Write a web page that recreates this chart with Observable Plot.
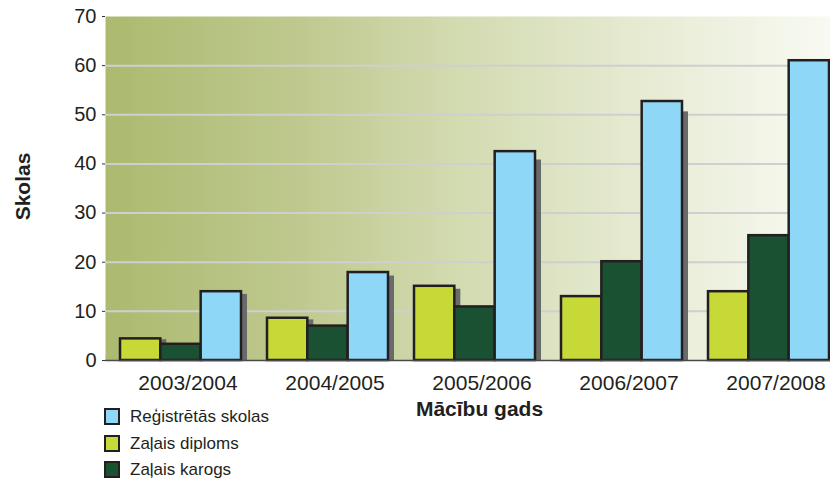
<!DOCTYPE html>
<html>
<head>
<meta charset="utf-8">
<script src="https://cdn.jsdelivr.net/npm/d3@7"></script>
<script src="https://cdn.jsdelivr.net/npm/@observablehq/plot@0.6"></script>
<style>
  body { margin: 0; background: #fff; }
  #wrap { position: relative; width: 830px; height: 479px; font-family: "Liberation Sans", Arial, sans-serif; color: #231f20; }
  #legend { position: absolute; left: 104px; top: 408px; }
  .row { display: flex; align-items: center; height: 17px; margin-bottom: 9.5px; }
  .sw { width: 16px; height: 17px; box-sizing: border-box; border: 2px solid #231f20; margin-right: 10px; }
  .lab { font-size: 17px; line-height: 17px; }
</style>
</head>
<body>
<div id="wrap"><div id="chart"></div><div id="legend"></div></div>
<script>
const years = ["2003/2004", "2004/2005", "2005/2006", "2006/2007", "2007/2008"];
const diploms = [4.4, 8.6, 15.1, 13.0, 14.0];
const karogs = [3.3, 7.0, 10.9, 20.1, 25.4];
const registretas = [14.0, 17.9, 42.5, 52.7, 61.0];
const yTicks = [0, 10, 20, 30, 40, 50, 60, 70];
const gridTicks = [10, 20, 30, 40, 50, 60];
const seriesNames = ["Zaļais diploms", "Zaļais karogs", "Reģistrētās skolas"];
const seriesColors = ["#c6d937", "#1b5133", "#8fd7f6"];
const seriesValues = [diploms, karogs, registretas];
const legendOrder = [2, 0, 1];

const W = 830, H = 420, ML = 105, MR = 0, MT = 16, MB = 60;
const pInner = 0.178, pOuter = 0.051, align = 0.93;
const step = (W - ML - MR) / (years.length - pInner + 2 * pOuter);
const bw = step * (1 - pInner);
const bar = bw / 3;

const rows = [];
seriesNames.forEach((s, j) => years.forEach((y, i) => rows.push({year: y, series: s, j, value: seriesValues[j][i]})));

const shadowMarks = seriesNames.map((s, j) => Plot.barY(rows.filter(d => d.j === j), {
  x: "year", y: d => d.value * 0.96, fill: "#6a6a6a", dx: 6,
  insetLeft: j * bar, insetRight: (2 - j) * bar
}));
const barMarks = seriesNames.map((s, j) => Plot.barY(rows.filter(d => d.j === j), {
  x: "year", y: "value", fill: seriesColors[j], stroke: "#231f20", strokeWidth: 2.5,
  insetLeft: j * bar, insetRight: (2 - j) * bar
}));

const chart = Plot.plot({
  width: W, height: H,
  marginLeft: ML, marginRight: MR, marginTop: MT, marginBottom: MB,
  style: {fontFamily: '"Liberation Sans", Arial, sans-serif', color: "#231f20", background: "transparent"},
  x: {domain: years, paddingInner: pInner, paddingOuter: pOuter, align, label: null},
  y: {domain: [0, 70], label: null},
  marks: [
    Plot.frame({fill: "url(#bgGrad)", stroke: "none"}),
    Plot.ruleY(gridTicks, {stroke: "#cfcfcf", strokeWidth: 2}),
    ...shadowMarks,
    ...barMarks,
    Plot.ruleY([0], {stroke: "#4a4a4a", strokeWidth: 1.5}),
    Plot.axisY({ticks: yTicks, tickSize: 3, tickPadding: 6, fontSize: 20, label: null, stroke: "#333"}),
    Plot.axisX({tickSize: 0, tickPadding: 15, fontSize: 21, label: null, dx: 7}),
    Plot.text(["Mācību gads"], {frameAnchor: "bottom", textAnchor: "middle", dx: 11.5, dy: 55, fontSize: 21, fontWeight: "bold", fill: "#231f20"}),
    Plot.text(["Skolas"], {frameAnchor: "left", textAnchor: "middle", lineAnchor: "middle", rotate: -90, dx: -82, dy: -2, fontSize: 21, fontWeight: "bold", fill: "#231f20"})
  ]
});

// gradient definition for the plot background
const ns = "http://www.w3.org/2000/svg";
const defs = document.createElementNS(ns, "defs");
const grad = document.createElementNS(ns, "linearGradient");
grad.setAttribute("id", "bgGrad");
grad.setAttribute("x1", "0"); grad.setAttribute("x2", "1");
grad.setAttribute("y1", "0"); grad.setAttribute("y2", "0");
[[0, "#abba6f"], [0.27, "#bfc98f"], [0.49, "#d3dbb1"], [0.71, "#e4e9cf"], [1, "#f8faf2"]].forEach(([o, c]) => {
  const st = document.createElementNS(ns, "stop");
  st.setAttribute("offset", o);
  st.setAttribute("stop-color", c);
  grad.appendChild(st);
});
defs.appendChild(grad);
chart.insertBefore(defs, chart.firstChild);
chart.style.overflow = "hidden";

document.getElementById("chart").appendChild(chart);

const legend = document.getElementById("legend");
legendOrder.forEach(j => {
  const r = document.createElement("div");
  r.className = "row";
  const sw = document.createElement("div");
  sw.className = "sw";
  sw.style.background = seriesColors[j];
  const lab = document.createElement("span");
  lab.className = "lab";
  lab.textContent = seriesNames[j];
  r.appendChild(sw); r.appendChild(lab);
  legend.appendChild(r);
});
</script>
</body>
</html>
